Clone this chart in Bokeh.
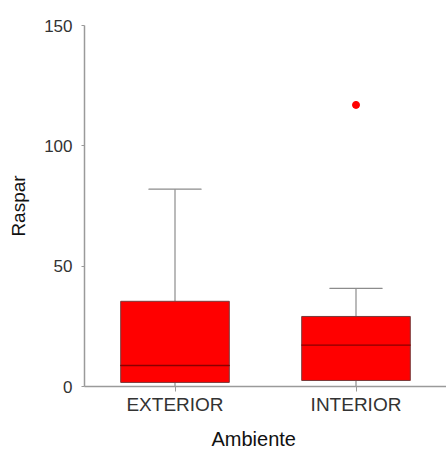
from bokeh.plotting import figure
from bokeh.models import FactorRange, Range1d, Title
from bokeh.embed import file_html
from bokeh.resources import INLINE

categories = ["EXTERIOR", "INTERIOR"]
q1 = [1.7, 2.5]
median = [8.7, 17.2]
q3 = [35.4, 29.1]
upper = [82.0, 40.8]
lower = [0.0, 0.0]
outlier_cat = ["INTERIOR"]
outlier_val = [117.0]
y_ticks = [0, 50, 100, 150]

FONT = "Liberation Sans"

p = figure(x_range=FactorRange(*categories, range_padding=0),
           y_range=Range1d(0, 150),
           width=446, height=457, output_backend="svg", toolbar_location=None,
           min_border_left=84, min_border_right=0, min_border_top=25, min_border_bottom=71)
p.x_range.factor_padding = 0
p.outline_line_color = None
p.xgrid.grid_line_color = None
p.ygrid.grid_line_color = None

# whiskers
p.segment(x0=categories, y0=q3, x1=categories, y1=upper, line_color="#8c8c8c", line_width=1.2)
p.segment(x0=categories, y0=lower, x1=categories, y1=q1, line_color="#8c8c8c", line_width=1.2)
p.rect(x=categories, y=upper, width=0.29, height=0.01, height_units="data",
       fill_color=None, line_color="#8c8c8c", line_width=1.2)
# boxes
p.vbar(x=categories, bottom=q1, top=q3, width=0.6, fill_color="#ff0000",
       line_color="#7a3a3a", line_width=1)
# medians
p.rect(x=categories, y=median, width=0.6, height=0.01, height_units="data",
       fill_color=None, line_color="#8a0000", line_width=1.4)
# outlier
p.scatter(x=outlier_cat, y=outlier_val, size=7, color="#ff0000")

p.yaxis.ticker = y_ticks
p.yaxis.axis_label = "Raspar"
for ax in (p.xaxis[0], p.yaxis[0]):
    ax.axis_line_color = "#9a9a9a"
    ax.axis_line_width = 1.5
    ax.major_tick_line_color = "#9a9a9a"
    ax.major_tick_in = 0
    ax.minor_tick_line_color = None
    ax.major_label_text_font = FONT
    ax.major_label_text_color = "#333333"
    ax.axis_label_text_font = FONT
    ax.axis_label_text_font_size = "19px"
    ax.axis_label_text_font_style = "normal"
    ax.axis_label_text_color = "#111111"
p.yaxis.major_label_text_font_size = "17px"
p.xaxis.major_label_text_font_size = "19px"
p.yaxis.major_tick_out = 3
p.xaxis.major_tick_out = 5
p.yaxis.major_label_standoff = 9
p.xaxis.major_label_standoff = 2
p.yaxis.axis_label_standoff = 12

xt = Title(text="Ambiente", align="left", offset=127, standoff=16,
           text_font=FONT, text_font_size="20px", text_font_style="normal",
           text_color="#111111")
p.add_layout(xt, "below")

open("out.html", "w").write(file_html(p, INLINE))
